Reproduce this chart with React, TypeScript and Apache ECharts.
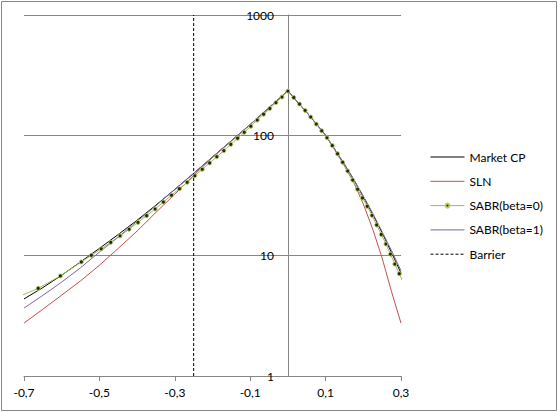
import React, { useEffect, useRef } from "react";
import * as echarts from "echarts";

// Log-moneyness grid used for the model curves
const moneyness = [
  -0.7, -0.65, -0.6, -0.55, -0.5, -0.45, -0.4, -0.35, -0.3, -0.25, -0.2, -0.15, -0.1, -0.05, 0,
  0.025, 0.05, 0.075, 0.1, 0.125, 0.15, 0.175, 0.2, 0.225, 0.25, 0.275, 0.3,
];
const marketCP = [
  4.37, 5.43, 6.88, 8.87, 11.5, 15.0, 19.7, 26.3, 35.5, 48.3, 66.1, 90.2, 123, 170, 235,
  190, 155, 125, 100, 75.9, 57.5, 42.7, 30.9, 22.1, 15.5, 10.6, 7.16,
];
const sln = [
  2.75, 3.59, 4.7, 6.17, 8.32, 11.5, 16.0, 22.9, 32.4, 46.6, 65.3, 89.7, 123, 170, 235,
  190, 155, 125, 100, 75.0, 55.6, 40.3, 26.9, 16.6, 9.55, 5.01, 2.75,
];
const sabrBeta1 = [
  3.67, 4.68, 6.03, 7.94, 10.7, 14.3, 19.3, 26.0, 35.5, 48.3, 66.1, 90.2, 123, 170, 235,
  190, 155, 125, 100, 75.9, 57.5, 42.7, 31.3, 22.5, 15.8, 11.0, 7.5,
];

// SABR(beta=0) is sampled at the strike grid (marker positions)
const sabrMoneyness = [
  -0.7249, -0.6623, -0.6035, -0.548, -0.5213, -0.4953, -0.47, -0.4453, -0.4212, -0.3977,
  -0.3747, -0.3522, -0.3302, -0.3087, -0.2877, -0.2671, -0.2469, -0.2271, -0.2076, -0.1886,
  -0.1699, -0.1515, -0.1335, -0.1158, -0.0984, -0.0813, -0.0645, -0.048, -0.0317, -0.0157, 0,
  0.0155, 0.0308, 0.0458, 0.0606, 0.0752, 0.0896, 0.1037, 0.1178, 0.1317, 0.1452, 0.1586,
  0.1719, 0.1849, 0.1978, 0.2106, 0.2231, 0.2355, 0.2478, 0.26, 0.2719, 0.2837, 0.2955, 0.307,
];
const sabrBeta0 = [
  4.42, 5.35, 6.79, 8.87, 10.07, 11.4, 12.9, 14.6, 16.6, 18.9,
  21.5, 24.4, 27.9, 31.8, 36.0, 40.7, 46.1, 52.2, 59.0, 66.4,
  74.6, 84.1, 94.6, 106, 119, 134, 150, 167, 187, 208, 233,
  206, 182, 161, 142, 124, 109, 95.3, 82.2, 70.3, 59.7, 50.5,
  42.5, 35.6, 30.2, 25.7, 21.6, 18.0, 15.0, 12.5, 10.3, 8.51, 7.08, 5.89,
];

const barrierX = [-0.25, -0.25];
const barrierY = [1, 1000];

const seriesNames = ["Market CP", "SLN", "SABR(beta=0)", "SABR(beta=1)", "Barrier"];

const FONT = "Lato";

function pairs(xs: number[], ys: number[]) {
  return xs.map((x, i) => [x, ys[i]]);
}

export default function App() {
  const ref = useRef<HTMLDivElement>(null);
  useEffect(() => {
    if (!ref.current) return;
    const chart = echarts.init(ref.current, undefined, { renderer: "svg" });
    const gray = "#868686";
    const hidden = { opacity: 0 };
    chart.setOption({
      animation: false,
      backgroundColor: "#ffffff",
      textStyle: { fontFamily: FONT, fontSize: 12, color: "#000" },
      grid: {
        left: 24,
        right: 157,
        top: 15,
        bottom: 36,
        containLabel: false,
        outerBoundsMode: "none",
      },
      graphic: [
        {
          type: "rect",
          shape: { x: 1.5, y: 1.5, width: 555, height: 409 },
          style: { fill: "none", stroke: gray, lineWidth: 1 },
          silent: true,
        },
      ],
      legend: {
        orient: "vertical",
        left: 430,
        top: 151,
        padding: 0,
        itemWidth: 34,
        itemHeight: 5,
        itemGap: 12.3,
        lineStyle: { width: 1 },
        data: [
          { name: seriesNames[0], itemStyle: hidden },
          { name: seriesNames[1], itemStyle: hidden },
          { name: seriesNames[2] },
          { name: seriesNames[3], itemStyle: hidden },
          { name: seriesNames[4], itemStyle: hidden },
        ],
        textStyle: { fontFamily: FONT, fontSize: 12, color: "#000" },
      },
      xAxis: {
        type: "value",
        min: -0.7,
        max: 0.3,
        interval: 0.2,
        axisLine: { onZero: false, lineStyle: { color: gray, width: 1 } },
        axisTick: { show: true, length: 5, lineStyle: { color: gray } },
        splitLine: { show: false },
        axisLabel: {
          margin: 10,
          fontFamily: FONT,
          fontSize: 12,
          color: "#000",
          formatter: (v: number) => v.toFixed(1).replace(".", ","),
        },
      },
      yAxis: {
        type: "log",
        logBase: 10,
        min: 1,
        max: 1000,
        position: "left",
        offset: -264,
        axisLine: { show: true, onZero: false, lineStyle: { color: gray, width: 1 } },
        axisTick: { show: false },
        splitLine: { show: true, lineStyle: { color: gray, width: 1 } },
        axisLabel: {
          margin: 14,
          fontFamily: FONT,
          fontSize: 12,
          color: "#000",
          formatter: (v: number) => String(Math.round(v)),
        },
      },
      series: [
        {
          name: "Market CP",
          type: "line",
          data: pairs(moneyness, marketCP),
          symbol: "none",
          lineStyle: { color: "#000000", width: 1 },
          itemStyle: { color: "#000000" },
        },
        {
          name: "SLN",
          type: "line",
          data: pairs(moneyness, sln),
          symbol: "none",
          lineStyle: { color: "#C0504D", width: 1 },
          itemStyle: { color: "#C0504D" },
        },
        {
          name: "SABR(beta=0)",
          type: "line",
          data: pairs(sabrMoneyness, sabrBeta0),
          symbol: "circle",
          symbolSize: 4,
          showSymbol: true,
          lineStyle: { color: "#9BBB59", width: 1 },
          itemStyle: { color: "#1e2a10", borderColor: "#b4d064", borderWidth: 1 },
        },
        {
          name: "SABR(beta=1)",
          type: "line",
          data: pairs(moneyness, sabrBeta1),
          symbol: "none",
          lineStyle: { color: "#8064A2", width: 1 },
          itemStyle: { color: "#8064A2" },
        },
        {
          name: "Barrier",
          type: "line",
          data: pairs(barrierX, barrierY),
          symbol: "none",
          lineStyle: { color: "#000000", width: 1, type: [3, 2] },
          itemStyle: { color: "#000000" },
        },
      ],
    });
    return () => chart.dispose();
  }, []);
  return (
    <div
      ref={ref}
      style={{ position: "fixed", left: 0, top: 0, width: 558, height: 412, background: "#fff" }}
    />
  );
}
